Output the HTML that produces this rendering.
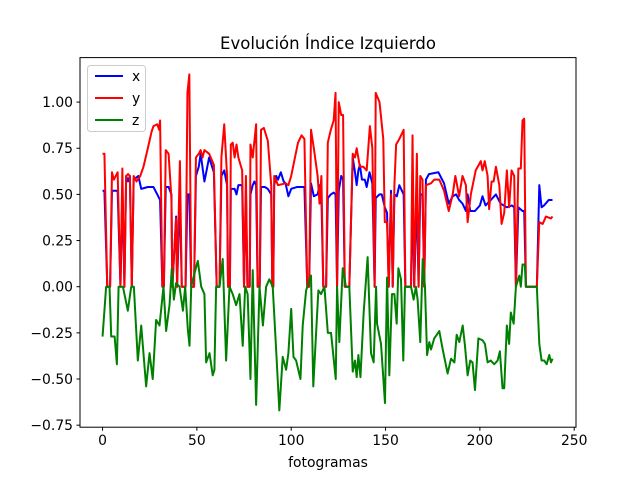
<!DOCTYPE html>
<html><head><meta charset="utf-8"><style>
html,body{margin:0;padding:0;background:#fff;}
svg text{font-family:"DejaVu Sans","Liberation Sans",sans-serif;}
</style></head><body>
<svg id="chart" width="640" height="480" xmlns="http://www.w3.org/2000/svg">
<rect width="640" height="480" fill="#fff"/>
<text x="328" y="49" font-size="16.5" text-anchor="middle">Evolución Índice Izquierdo</text>
<g id="plot"></g>
<rect x="80" y="57.6" width="496" height="369.6" fill="none" stroke="#000" stroke-width="1"/>
<text x="328" y="467" font-size="13.9" text-anchor="middle">fotogramas</text>
<g>
<rect x="87.5" y="65.5" width="58" height="66" rx="3" fill="#fff" fill-opacity="0.8" stroke="#ccc"/>
<g><line x1="95" y1="76" x2="123" y2="76" stroke="#0000ff" stroke-width="2"/><text x="132" y="81" font-size="13.9">x</text></g>
<g><line x1="95" y1="98" x2="123" y2="98" stroke="#ff0000" stroke-width="2"/><text x="132" y="103" font-size="13.9">y</text></g>
<g><line x1="95" y1="120" x2="123" y2="120" stroke="#008000" stroke-width="2"/><text x="132" y="125" font-size="13.9">z</text></g>
</g>
</svg>
<script>
const xTicks=[0,50,100,150,200,250];
const yTicks=[-0.75,-0.5,-0.25,0,0.25,0.5,0.75,1.0];
const yTickLabels=["−0.75","−0.50","−0.25","0.00","0.25","0.50","0.75","1.00"];
const framesX=[0,1,2.5,4,5,8,9.5,10.5,11.6,12.5,13.5,14.5,15.5,16.5,19,20.5,24,27,29,30.5,31.7,32.5,33.5,35,36.5,37,39,39.5,41,42,44,45,46,47,48.5,49.5,51,52,54,56.5,59,60.5,62,63,64.5,66,66.5,67.5,68,70,71,72,74,75,76,76.8,78,78.4,79.6,80.5,81.4,82.2,83.3,84,86,87.6,89.4,90,90.5,91,92,93,94.5,96,97,98.5,100,103,107,108.5,109.5,110.5,112,114,115,116,117,118.5,119.4,121,122.5,123.5,124.3,125.2,126.5,127.5,128.4,130.8,132.6,133.8,134.7,135.6,136.4,137.5,139,140,141.5,143,144.2,144.8,146.8,148,149.6,150.8,151.7,152.9,153.8,154.7,156,157.3,159.6,160.5,163.5,164.3,165.2,166.6,167.5,168.4,169.6,170.5,171.4,173,178,181,183.5,185.6,187.4,189,190.8,192.6,193.5,194.9,197.4,200,201.4,203,205.8,208.5,211,214.3,217,218.2,219.1,220.4,222.6,223.5,224.4,230.2,231.5,232.7,234,236.5,238.5];
const valsX=[0.52,0.52,0,0,0.52,0.52,0,0.52,0,0.6,0.57,0.6,0,0.58,0.6,0.53,0.54,0.54,0.5,0.47,0,0,0.54,0.54,0.5,0,0.38,0,0.5,0,0,0.5,0.5,0,0,0.6,0.65,0.72,0.57,0.7,0.62,0,0,0.6,0.63,0.55,0,0,0.53,0.53,0.5,0.55,0.55,0,0.52,0,0,0.5,0.55,0.57,0.55,0,0,0.54,0.54,0.53,0.5,0,0,0.55,0.6,0.58,0.62,0.57,0.56,0.49,0.53,0.54,0.54,0,0,0.56,0.49,0.5,0.55,0.49,0,0,0.48,0.5,0.51,0.5,0,0.52,0.6,0.58,0,0,0.7,0.62,0.55,0.63,0.66,0.58,0.58,0.54,0.62,0.56,0,0.48,0.5,0.5,0.43,0.4,0,0.52,0,0.5,0.49,0.55,0.5,0,0,0.5,0,0.5,0,0.5,0.5,0,0.58,0.61,0.62,0.56,0.45,0.49,0.5,0.47,0.45,0.41,0.5,0.41,0.41,0.44,0.49,0.44,0.47,0.5,0.45,0.43,0.44,0.43,0,0.43,0.41,0.41,0,0,0.55,0.43,0.44,0.47,0.47];
const framesY=[0,1,2.5,4,5,6,7,8,9.5,10.5,11.6,12.5,13.5,14.5,15.5,16.5,18,20,21.7,24,26,27,29,30,30.5,31.7,32.5,33.5,35,36.5,37,39,39.5,41,42,44,45,46,47,48.5,49.5,51,52,53,54,56.5,59,60.5,62,63,64.5,66,66.5,67.5,68,69,70,71,72,74,75,76,76.8,78,78.4,79.6,81.4,82.2,83.3,84,85.5,87.6,89.4,90,90.5,91,93,97,98.5,100,102,103.6,105.5,107,108.5,109.5,110.5,112,114,115,116,117,118.5,119.4,121,122.5,123.5,124.3,125.2,126.5,127.5,128.4,130.8,132.6,133.8,134.7,136.4,138.2,140,141.7,143,144.2,144.8,146.8,148.8,149.6,150.8,151.7,152.9,153.8,154.7,155.6,157.3,159.6,160.5,163.5,164.3,165.2,166.6,167.5,168.4,169.6,170.5,171.4,174.1,175.8,178.5,181,183.5,185.6,187,189,190.8,192.6,193.5,195.2,197.8,200.5,201.4,202.6,204.1,204.9,206.2,207.3,208.5,210.3,211.5,212.9,214.3,215.5,216.8,218.2,219.1,220.4,221.7,222.6,223.5,224.4,230.2,231.5,233.3,235,237.7,238.5];
const valsY=[0.72,0.72,0,0,0.62,0.58,0.6,0.62,0,0.64,0,0.6,0.61,0.6,0,0.6,0.57,0.6,0.65,0.75,0.84,0.87,0.88,0.85,0.9,0,0,0.74,0.72,0.48,0,0.37,0,0.68,0,0,1.05,1.15,0,0,0.7,0.72,0.74,0.7,0.74,0.72,0.66,0,0,0.7,0.88,0.6,0,0,0.77,0.78,0.7,0.77,0.7,0.63,0,0.6,0,0,0.77,0.7,0.88,0,0,0.85,0.86,0.79,0.55,0,0,0.6,0.55,0.56,0.55,0.6,0.7,0.78,0.82,0.8,0,0,0.85,0.75,0.6,0.45,0.6,0,0,0.78,0.85,0.9,1.05,0,1.0,0.93,0.93,0,0,0.72,0.7,0.75,0.65,0.65,0.63,0.87,0.75,0,1.05,1.0,0.8,0.35,0.35,0,0.5,0,0.55,0.77,0.8,0.85,0,0,0.82,0,0.72,0,0.6,0.58,0,0.55,0.56,0.58,0.58,0.52,0.41,0.5,0.6,0.49,0.6,0.55,0.35,0.5,0.63,0.68,0.63,0.68,0.6,0.42,0.57,0.57,0.65,0.55,0.34,0.4,0.63,0.43,0.63,0.6,0,0.64,0.64,0.9,0.91,0,0,0.35,0.34,0.38,0.37,0.38];
const framesZ=[0,0.5,1.9,3.7,4.6,6.4,7.6,8.5,10.8,13.4,15.2,16.6,18.7,20.5,23.1,24.9,26.6,28.4,30.2,32.3,33.7,35.5,36.7,37.8,39,40.8,42.6,43.8,45.2,46.1,47,48.7,50.5,52.3,54,54.9,56.7,58.4,59.3,60.2,62,63.7,65.5,67.3,69,70.8,72.6,74.3,75.6,76.9,78.4,79.6,81.4,83.2,85,86.7,88.4,90.2,92,93.7,95.5,97.3,98.5,100,101.2,102.6,104.9,106.1,107.9,110.5,111.7,113.2,114.4,115.8,117.6,119.4,121.1,123.6,124.3,125.5,127.3,129,130.8,132.6,133.8,134.7,135.6,136.7,138.4,140.5,142.3,143.7,145,145.5,147.6,149.7,150.8,152,153.4,154.7,155.9,156.8,158.2,159.4,160.3,163.5,164.9,166.1,167,168.4,169.7,170.9,172,173.2,174.1,175.8,178.5,180.3,182.9,184.7,186.5,187.7,189.1,190.9,192.1,193.5,194.9,196.1,197.4,199.2,201.4,202.7,204.1,205.8,207.6,209.4,210.6,212,212.9,214.3,215.5,216.4,217.9,219.1,220.9,221.7,222.6,223.8,224.4,230.2,231.5,232.7,234.1,235.4,236.8,237.7,238.5];
const valsZ=[-0.27,-0.2,0,0,-0.27,-0.27,-0.42,0,0,-0.13,0,0,-0.4,-0.21,-0.54,-0.36,-0.5,-0.18,-0.21,0,-0.24,-0.1,0.1,-0.07,0.02,0,-0.13,0,-0.23,-0.32,0,0.07,0.14,0,-0.04,-0.41,-0.36,-0.48,-0.45,0,0,0.15,-0.4,0,-0.04,-0.1,-0.04,-0.32,0,-0.04,-0.5,0.09,-0.64,0,-0.21,0,0.04,0,-0.34,-0.67,-0.38,-0.45,-0.36,-0.12,-0.38,-0.4,-0.5,-0.21,-0.02,0.06,-0.54,-0.25,-0.02,-0.04,0,-0.25,-0.25,-0.5,0,-0.3,0.1,0,0,-0.46,-0.4,-0.49,-0.37,-0.49,-0.14,0.16,-0.36,-0.41,0,-0.2,-0.31,-0.63,0.05,-0.48,-0.04,-0.04,-0.2,0.1,0.04,-0.4,0,0,-0.07,0,-0.07,-0.3,0.15,0,-0.37,-0.3,-0.34,-0.28,-0.24,-0.34,-0.47,-0.39,-0.41,-0.26,-0.3,-0.21,-0.32,-0.48,-0.4,-0.41,-0.56,-0.28,-0.29,-0.31,-0.41,-0.4,-0.42,-0.4,-0.35,-0.55,-0.55,-0.21,-0.31,-0.14,-0.2,0,0.06,0,0.12,0.12,0,0,-0.31,-0.4,-0.4,-0.42,-0.37,-0.41,-0.39];

const L=80,R=576,T=57.6,B=427.2,XMIN=-11.95,XMAX=250.95,YMIN=-0.761,YMAX=1.241;
function sx(v){return L+(v-XMIN)/(XMAX-XMIN)*(R-L);}
function sy(v){return B-(v-YMIN)/(YMAX-YMIN)*(B-T);}
const NS="http://www.w3.org/2000/svg";
const g=document.getElementById('plot');
function mk(tag,attrs){const e=document.createElementNS(NS,tag);for(const k in attrs)e.setAttribute(k,attrs[k]);return e;}
xTicks.forEach(function(v){
  const t=mk('line',{x1:sx(v),x2:sx(v),y1:B,y2:B+3.5,stroke:'#000'});
  
  
  g.appendChild(t);
  const l=mk('text',{x:sx(v),y:B+18,'font-size':13.9,'text-anchor':'middle'});
  
  
  l.textContent=String(v);g.appendChild(l);
});
yTicks.forEach(function(v,i){
  const t=mk('line',{x1:L-3.5,x2:L,y1:sy(v),y2:sy(v),stroke:'#000'});
  
  
  g.appendChild(t);
  const l=mk('text',{x:L-7,y:sy(v)+5,'font-size':13.9,'text-anchor':'end'});
  
  
  l.textContent=yTickLabels[i];g.appendChild(l);
});
function series(fr,vals,color,name){
  const d=fr.map(function(f,i){return (i?'L':'M')+sx(f).toFixed(2)+','+sy(vals[i]).toFixed(2);}).join('');
  const p=mk('path',{d:d,fill:'none',stroke:color,'stroke-width':2,'stroke-linejoin':'round'});
  
  
  g.appendChild(p);
}
series(framesX,valsX,'#0000ff','series-x-line');
series(framesY,valsY,'#ff0000','series-y-line');
series(framesZ,valsZ,'#008000','series-z-line');
</script>
</body></html>
